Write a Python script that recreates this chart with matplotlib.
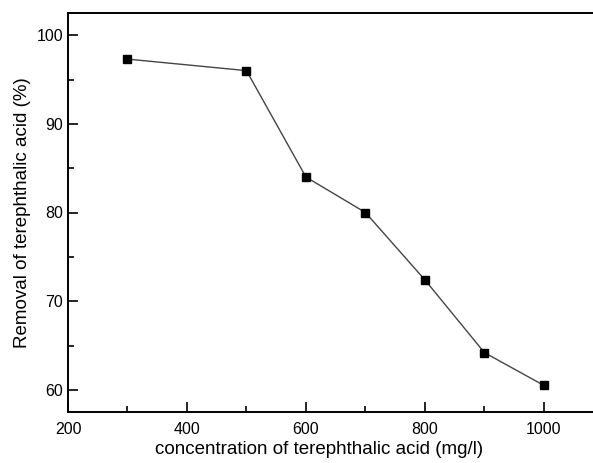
import matplotlib
matplotlib.use("Agg")
import matplotlib.pyplot as plt
from matplotlib.ticker import MultipleLocator

# data
concentration = [300, 500, 600, 700, 800, 900, 1000]
removal = [97.3, 96.0, 84.0, 80.0, 72.4, 64.2, 60.5]

plt.rcParams["font.family"] = ["Liberation Sans", "DejaVu Sans"]

fig = plt.figure(figsize=(5.93, 4.63), dpi=100)
# right edge of the frame is cropped off in the reference
ax = fig.add_axes([68 / 593, 51 / 463, 530 / 593, 399 / 463])

ax.plot(concentration, removal, color="#444444", linewidth=1.0,
        marker="s", markersize=6, markerfacecolor="black",
        markeredgecolor="black")

ax.set_xlim(200, 1091)
ax.set_ylim(57.5, 102.5)
ax.spines["right"].set_visible(False)
ax.xaxis.set_major_locator(MultipleLocator(200))
ax.xaxis.set_minor_locator(MultipleLocator(100))
ax.yaxis.set_major_locator(MultipleLocator(10))
ax.yaxis.set_minor_locator(MultipleLocator(5))
ax.tick_params(which="both", direction="in", labelsize=11.5, width=1.2)
ax.tick_params(which="major", length=7)
ax.tick_params(which="minor", length=4)
ax.tick_params(axis="x", which="major", pad=7)
for s in ax.spines.values():
    s.set_linewidth(1.4)

ax.set_xlabel("concentration of terephthalic acid (mg/l)", fontsize=13.5,
              labelpad=3)
ax.xaxis.label.set_x(0.474)  # label sits a bit left of the visible frame centre
ax.set_ylabel("Removal of terephthalic acid (%)", fontsize=13.5, labelpad=4)

fig.savefig("out.png", dpi=100)
